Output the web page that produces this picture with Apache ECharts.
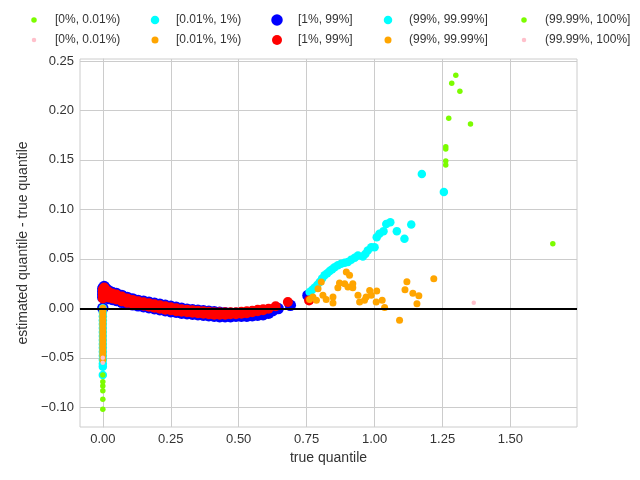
<!DOCTYPE html>
<html>
<head>
<meta charset="utf-8">
<script src="https://cdn.jsdelivr.net/npm/echarts@6/dist/echarts.min.js"></script>
<style>html,body{margin:0;padding:0;background:#fff}#c{width:640px;height:480px}</style>
</head>
<body>
<div id="c"></div>
<script>
// bucket labels (legend text)
const bucketLabels = ['[0%, 0.01%)', '[0.01%, 1%)', '[1%, 99%]', '(99%, 99.99%]', '(99.99%, 100%]'];
const xTicks = [0, 0.25, 0.5, 0.75, 1.0, 1.25, 1.5];
const yTicks = [-0.10, -0.05, 0, 0.05, 0.10, 0.15, 0.20, 0.25];

// estimator A (green / cyan / blue)
const aLowTail = [[0,-0.0675],[0,-0.0743],[0,-0.0786],[0,-0.0834],[0,-0.092],[0,-0.102]];
const aLow = [[0,0.000],[0,-0.004],[0,-0.008],[0,-0.012],[0,-0.016],[0,-0.020],[0,-0.024],[0,-0.028],[0,-0.032],[0,-0.036],[0,-0.040],[0,-0.044],[0,-0.048],[0,-0.052],[0,-0.056],[0,-0.059],[0,-0.0675]];
const aMid = [[0,0.020],[0,0.017],[0,0.014],[0,0.011],[0,0.000],[0.005,0.022],[0.005,0.016],[0.01,0.020],[0.01,0.011],
  [0.02,0.018],[0.02,0.010],[0.035,0.016],[0.035,0.009],[0.05,0.015],[0.05,0.008],[0.07,0.013],[0.07,0.006],
  [0.09,0.011],[0.09,0.0045],[0.11,0.0095],[0.11,0.0035],[0.13,0.008],[0.13,0.0025],[0.15,0.007],[0.15,0.0015],
  [0.17,0.006],[0.17,0.0005],[0.19,0.005],[0.19,-0.0005],[0.21,0.004],[0.21,-0.0015],[0.23,0.003],[0.23,-0.0025],
  [0.25,0.002],[0.25,-0.0035],[0.27,0.001],[0.27,-0.004],[0.29,0.000],[0.29,-0.005],[0.31,-0.001],[0.31,-0.0055],
  [0.33,-0.0015],[0.33,-0.006],[0.35,-0.002],[0.35,-0.0065],[0.37,-0.0025],[0.37,-0.007],[0.39,-0.003],[0.39,-0.0075],
  [0.41,-0.0035],[0.41,-0.008],[0.43,-0.004],[0.43,-0.0085],[0.45,-0.0045],[0.45,-0.0085],[0.47,-0.005],[0.47,-0.0085],
  [0.49,-0.005],[0.49,-0.008],[0.51,-0.005],[0.51,-0.008],[0.53,-0.0045],[0.53,-0.008],[0.55,-0.004],[0.55,-0.0075],
  [0.57,-0.0035],[0.57,-0.007],[0.59,-0.003],[0.59,-0.0065],[0.61,-0.002],[0.61,-0.005],[0.625,-0.0025],
  [0.645,-0.0003],[0.69,0.003],[0.755,0.013]];
const aHigh = [[0.761,0.0164],[0.770,0.0185],[0.779,0.0208],[0.789,0.0235],[0.798,0.0265],[0.807,0.030],[0.816,0.0333],
  [0.826,0.0355],[0.835,0.0376],[0.844,0.0395],[0.853,0.0416],[0.865,0.0435],[0.877,0.045],[0.890,0.046],[0.902,0.0467],
  [0.914,0.049],[0.927,0.051],[0.939,0.0534],[0.957,0.0524],[0.966,0.055],[0.975,0.0585],[0.988,0.0618],[1.0,0.0618],
  [1.008,0.0719],[1.018,0.0753],[1.033,0.078],[1.043,0.0853],[1.058,0.087],[1.082,0.078],[1.11,0.0703],[1.135,0.0847],
  [1.174,0.1358],[1.255,0.1176]];
const aHighTail = [[1.299,0.2356],[1.284,0.2275],[1.314,0.2194],[1.273,0.1922],[1.353,0.1862],[1.262,0.1633],
  [1.262,0.161],[1.262,0.1489],[1.262,0.1449],[1.656,0.0652]];

// estimator B (pink / orange / red)
const bLowTail = [[0,-0.055],[0,-0.050]];
const bLow = [[0,0.000],[0,-0.003],[0,-0.006],[0,-0.009],[0,-0.012],[0,-0.015],[0,-0.018],[0,-0.021],[0,-0.024],
  [0,-0.027],[0,-0.030],[0,-0.033],[0,-0.036],[0,-0.039],[0,-0.042],[0,-0.045],[0,-0.048],[0,-0.052]];
const bMid = [[0,0.019],[0,0.016],[0,0.013],[0,0.010],[0.005,0.021],[0.005,0.017],[0.01,0.019],[0.01,0.012],
  [0.02,0.017],[0.02,0.011],[0.035,0.015],[0.035,0.010],[0.05,0.014],[0.05,0.009],[0.07,0.012],[0.07,0.007],
  [0.09,0.010],[0.09,0.0055],[0.11,0.0085],[0.11,0.0045],[0.13,0.007],[0.13,0.0035],[0.15,0.006],[0.15,0.0025],
  [0.17,0.005],[0.17,0.0015],[0.19,0.004],[0.19,0.0005],[0.21,0.003],[0.21,-0.0005],[0.23,0.002],[0.23,-0.0015],
  [0.25,0.001],[0.25,-0.002],[0.27,0.000],[0.27,-0.003],[0.29,-0.001],[0.29,-0.0035],[0.31,-0.0015],[0.31,-0.004],
  [0.33,-0.002],[0.33,-0.0045],[0.35,-0.0025],[0.35,-0.005],[0.37,-0.003],[0.37,-0.0055],[0.39,-0.0035],[0.39,-0.006],
  [0.41,-0.004],[0.41,-0.0065],[0.43,-0.004],[0.43,-0.0065],[0.45,-0.004],[0.45,-0.0065],[0.47,-0.004],[0.47,-0.006],
  [0.49,-0.004],[0.49,-0.006],[0.51,-0.0035],[0.51,-0.0055],[0.53,-0.003],[0.53,-0.005],[0.55,-0.0025],[0.55,-0.004],
  [0.57,-0.0015],[0.57,-0.003],[0.59,-0.001],[0.59,-0.002],[0.61,-0.0005],[0.636,0.002],[0.681,0.0064],[0.759,0.008]];
const bHigh = [[0.804,0.0265],[0.792,0.0198],[0.773,0.0114],[0.761,0.0088],[0.786,0.0081],[0.81,0.0131],[0.822,0.0088],
  [0.847,0.0053],[0.847,0.0114],[0.865,0.0208],[0.871,0.0255],[0.896,0.0366],[0.908,0.0333],[0.89,0.0249],
  [0.902,0.0215],[0.92,0.0249],[0.92,0.0208],[0.939,0.0131],[0.945,0.0064],[0.963,0.0081],[0.969,0.0114],
  [0.982,0.0181],[0.988,0.0131],[1.008,0.0174],[1.006,0.0064],[1.028,0.0081],[1.037,0.0007],[1.092,-0.0121],
  [1.112,0.0188],[1.119,0.0269],[1.141,0.0151],[1.163,0.0128],[1.156,0.0047],[1.218,0.0299]];
const bHighTail = [[1.365,0.0057]];

const colorsA = ['#7cfc00', '#00ffff', '#0000ff', '#00ffff', '#7cfc00'];
const colorsB = ['#ffc0cb', '#ffa500', '#ff0000', '#ffa500', '#ffc0cb'];
const sizesA = [5.5, 8.5, 11.5, 8.5, 5.5];
const sizesB = [4.5, 7, 10, 7, 4.5];
const dataA = [aLowTail, aLow, aMid, aHigh, aHighTail];
const dataB = [bLowTail, bLow, bMid, bHigh, bHighTail];

const FONT = 'Liberation Sans';
const chart = echarts.init(document.getElementById('c'));

function mkSeries(prefix, i, data, color, size) {
  return {
    name: prefix + bucketLabels[i], type: 'scatter', data: data,
    symbol: 'circle', symbolSize: size,
    itemStyle: { color: color, opacity: 1 },
    emphasis: { disabled: true }
  };
}

const series = [{
  type: 'scatter', name: 'zero', data: [], silent: true,
  markLine: { silent: true, symbol: ['none', 'none'], label: { show: false },
    lineStyle: { color: '#000', width: 2, type: 'solid' }, data: [{ yAxis: 0 }], animation: false }
}];
// draw order: blue, cyans, red, oranges, greens, pinks
series.push(mkSeries('A:', 2, dataA[2], colorsA[2], sizesA[2]));
series.push(mkSeries('A:', 1, dataA[1], colorsA[1], sizesA[1]));
series.push(mkSeries('A:', 3, dataA[3], colorsA[3], sizesA[3]));
series.push(mkSeries('B:', 2, dataB[2], colorsB[2], sizesB[2]));
series.push(mkSeries('B:', 1, dataB[1], colorsB[1], sizesB[1]));
series.push(mkSeries('B:', 3, dataB[3], colorsB[3], sizesB[3]));
series.push(mkSeries('A:', 0, dataA[0], colorsA[0], sizesA[0]));
series.push(mkSeries('A:', 4, dataA[4], colorsA[4], sizesA[4]));
series.push(mkSeries('B:', 0, dataB[0], colorsB[0], sizesB[0]));
series.push(mkSeries('B:', 4, dataB[4], colorsB[4], sizesB[4]));

const iconX = [34, 155, 277, 388, 524];
const textX = [55, 176, 298, 409, 545];
const rowY = [20, 40];
const legends = [];
[['A:', sizesA], ['B:', sizesB]].forEach(function (row, r) {
  for (let i = 0; i < 5; i++) {
    const w = row[1][i];
    legends.push({
      data: [{ name: row[0] + bucketLabels[i], icon: 'circle' }],
      left: iconX[i] - w / 2, top: rowY[r] - 7, padding: 0,
      itemWidth: w, itemHeight: w, selectedMode: false,
      formatter: function (n) { return n.slice(2); },
      textStyle: { fontFamily: FONT, fontSize: 12, color: '#333', lineHeight: 14,
        padding: [0, 0, 0, textX[i] - (iconX[i] + w / 2) - 5] }
    });
  }
});

function fmt(v) {
  const s = Math.abs(v).toFixed(2);
  return (v < -1e-9 ? '\u2212' : '') + s;
}

chart.setOption({
  animation: false,
  legend: legends,
  grid: { left: 80, right: 63, top: 59, bottom: 53, show: true, borderColor: '#cccccc', borderWidth: 1, backgroundColor: 'transparent' },
  xAxis: {
    type: 'value', min: -0.084, max: 1.745,
    name: 'true quantile', nameLocation: 'middle', nameGap: 24,
    nameTextStyle: { fontFamily: FONT, fontSize: 14, color: '#333' },
    axisLine: { show: true, lineStyle: { color: '#cccccc' } },
    axisTick: { show: false, customValues: xTicks },
    axisLabel: { customValues: xTicks, formatter: fmt, fontFamily: FONT, fontSize: 13, color: '#333', margin: 6 },
    splitLine: { show: true, lineStyle: { color: '#cccccc', width: 1 } }
  },
  yAxis: {
    type: 'value', min: -0.12, max: 0.252,
    name: 'estimated quantile - true quantile', nameLocation: 'middle', nameGap: 48,
    nameTextStyle: { fontFamily: FONT, fontSize: 14, color: '#333' },
    axisLine: { show: true, lineStyle: { color: '#cccccc' } },
    axisTick: { show: false, customValues: yTicks },
    axisLabel: { customValues: yTicks, formatter: fmt, fontFamily: FONT, fontSize: 13, color: '#333', margin: 6 },
    splitLine: { show: true, lineStyle: { color: '#cccccc', width: 1 } }
  },
  series: series
});
</script>
</body>
</html>
